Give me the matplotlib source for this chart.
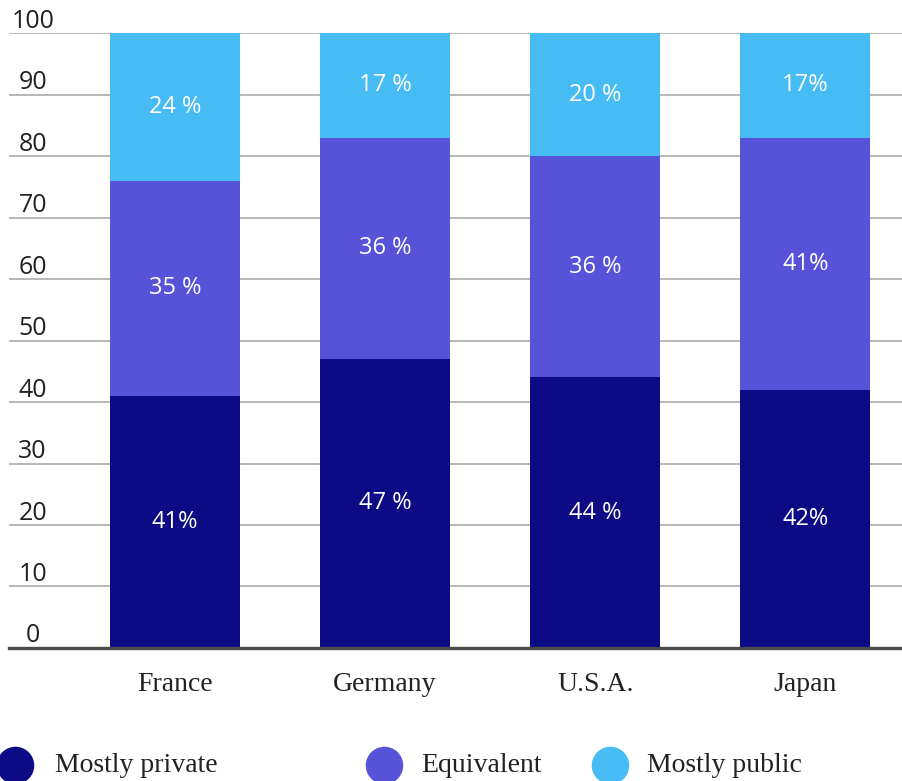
import matplotlib.pyplot as plt
import matplotlib.transforms as mtransforms
import numpy as np

countries = ["France", "Germany", "U.S.A.", "Japan"]
series_names = ["Mostly private", "Equivalent", "Mostly public"]
mostly_private = [41, 47, 44, 42]
equivalent = [35, 36, 36, 41]
mostly_public = [24, 17, 20, 17]
# labels as printed on the bars (spacing varies in the original)
private_labels = ["41%", "47 %", "44 %", "42%"]
equivalent_labels = ["35 %", "36 %", "36 %", "41%"]
public_labels = ["24 %", "17 %", "20 %", "17%"]
y_ticks = [0, 10, 20, 30, 40, 50, 60, 70, 80, 90, 100]

colors = ["#0c0a85", "#5753d9", "#47bbf3"]
sans = ["Open Sans", "DejaVu Sans"]
serif = ["Liberation Serif", "DejaVu Serif"]

fig = plt.figure(figsize=(9.02, 7.81), dpi=100)
ax = fig.add_axes([0.01, 0.1703, 0.99, 0.7874])

x = np.arange(len(countries))
width = 0.62
values = [mostly_private, equivalent, mostly_public]
labels = [private_labels, equivalent_labels, public_labels]
bottom = np.zeros(len(countries))
for vals, lbls, color in zip(values, labels, colors):
    vals = np.array(vals, dtype=float)
    ax.bar(x, vals, width, bottom=bottom, color=color, zorder=2)
    for xi, b, v, t in zip(x, bottom, vals, lbls):
        ax.text(xi, b + v / 2, t, ha="center", va="center", color="white",
                fontsize=17, family=sans, zorder=3)
    bottom += vals

ax.set_xlim(-0.79, 3.46)
ax.set_ylim(0, 100)
ax.set_yticks(y_ticks)
ax.set_yticklabels([str(t) for t in y_ticks])
ax.yaxis.grid(True, color="#aaaaaa", linewidth=1.2, zorder=0)
ax.set_axisbelow(True)

for s in ["top", "right", "left"]:
    ax.spines[s].set_visible(False)
ax.spines["bottom"].set_color("#4a4a4a")
ax.spines["bottom"].set_linewidth(2.4)
ax.spines["bottom"].set_zorder(4)

ax.set_xticks(x)
ax.set_xticklabels(countries, family=serif, fontsize=20, color="#222222")
ax.tick_params(axis="x", length=0, pad=17)
ax.tick_params(axis="y", length=0, pad=-17, labelsize=18, labelcolor="#222222")
offset = mtransforms.ScaledTranslation(0, 0.15, fig.dpi_scale_trans)
for lbl in ax.get_yticklabels():
    lbl.set_ha("center")
    lbl.set_family(sans)
    lbl.set_transform(lbl.get_transform() + offset)

# legend row along the bottom edge
legend_x = [15, 384, 610]
text_x = [55, 421, 647]
legend_y = 1 - 765 / 781
for name, color, mx, tx in zip(series_names, colors, legend_x, text_x):
    fig.add_artist(plt.Line2D([mx / 902], [legend_y], marker="o", markersize=26,
                              color=color, transform=fig.transFigure))
    fig.text(tx / 902, legend_y, name, ha="left", va="center", family=serif,
             fontsize=20, color="#222222")

fig.savefig("out.png", dpi=100)
plt.close(fig)
